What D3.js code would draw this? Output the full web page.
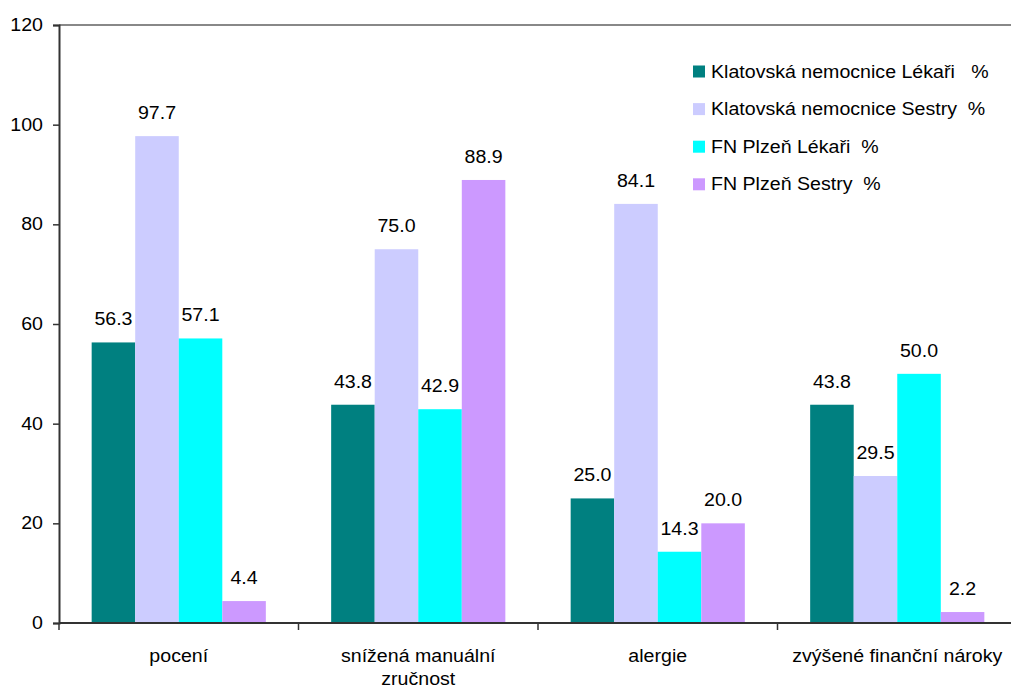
<!DOCTYPE html>
<html>
<head>
<meta charset="utf-8">
<script src="https://cdn.jsdelivr.net/npm/d3@7"></script>
<style>
  html, body { margin: 0; padding: 0; background: #fff; }
  svg { display: block; }
  text { font-family: "Liberation Sans", Arial, sans-serif; fill: #000; }
</style>
</head>
<body>
<svg id="chart" width="1011" height="689"></svg>
<script>
// Categories (x axis)
const categories = ["pocení", "snížená manuální zručnost", "alergie", "zvýšené finanční nároky"];
const categoryLines = [["pocení"], ["snížená manuální", "zručnost"], ["alergie"], ["zvýšené finanční nároky"]];

// Series names and values (%)
const seriesNames = [
  "Klatovská nemocnice Lékaři   %",
  "Klatovská nemocnice Sestry  %",
  "FN Plzeň Lékaři  %",
  "FN Plzeň Sestry  %"
];
const klatovyLekari = [56.3, 43.8, 25.0, 43.8];
const klatovySestry = [97.7, 75.0, 84.1, 29.5];
const plzenLekari   = [57.1, 42.9, 14.3, 50.0];
const plzenSestry   = [4.4, 88.9, 20.0, 2.2];
const seriesValues = [klatovyLekari, klatovySestry, plzenLekari, plzenSestry];
const seriesColors = ["#008080", "#CCCCFF", "#00FFFF", "#CC99FF"];

// Y axis ticks
const yTicks = [0, 20, 40, 60, 80, 100, 120];

const svg = d3.select("#chart");
const plotLeft = 59, plotRight = 1017, plotTop = 25, plotBottom = 623;
const FS = 17.5, SX = 1.12;   // font size and horizontal stretch of text

// Stretched text helper: anchor at (x, y) with the given alignment
function stext(g, str, x, y, anchor) {
  return g.append("text")
    .attr("transform", `translate(${x},${y}) scale(${SX},1)`)
    .attr("text-anchor", anchor)
    .attr("xml:space", "preserve")
    .style("white-space", "pre")
    .style("font-size", FS + "px")
    .text(str);
}

const y = d3.scaleLinear().domain([0, 120]).range([plotBottom, plotTop]);
const x0 = d3.scaleBand().domain(categories).range([plotLeft, plotRight]).padding(0);
const bw = x0.bandwidth() / 5.5;
const x1 = d3.scaleBand().domain(d3.range(seriesNames.length))
  .range([0.75 * bw, 4.75 * bw]).padding(0);

// Top border of the plot area
svg.append("line")
  .attr("x1", plotLeft).attr("x2", 1011)
  .attr("y1", y(120)).attr("y2", y(120))
  .attr("stroke", "#888").attr("stroke-width", 2);

// Bars
const bars = svg.append("g");
seriesValues.forEach((vals, si) => {
  bars.selectAll(null).data(vals).enter().append("rect")
    .attr("x", (d, i) => x0(categories[i]) + x1(si))
    .attr("width", x1.bandwidth())
    .attr("y", d => y(d))
    .attr("height", d => y(0) - y(d))
    .attr("fill", seriesColors[si]);
});

// Value labels above bars
const labels = svg.append("g");
seriesValues.forEach((vals, si) => {
  vals.forEach((v, i) => {
    stext(labels, v.toFixed(1), x0(categories[i]) + x1(si) + x1.bandwidth() / 2, y(v) - 17, "middle");
  });
});

// Y axis
const yAxis = svg.append("g").attr("transform", `translate(${plotLeft},0)`)
  .call(d3.axisLeft(y).tickValues(yTicks).tickSize(6).tickFormat(d3.format("d")));
yAxis.select(".domain").attr("stroke", "#333").attr("stroke-width", 2);
yAxis.selectAll(".tick line").attr("stroke", "#333").attr("stroke-width", 1.5);
yAxis.selectAll(".tick text").remove();
yTicks.forEach(t => stext(svg, String(t), 43, y(t) + 6, "end"));

// X axis with ticks at category boundaries
const xb = svg.append("g");
xb.append("line").attr("x1", plotLeft).attr("x2", 1011)
  .attr("y1", plotBottom).attr("y2", plotBottom)
  .attr("stroke", "#333").attr("stroke-width", 2);
const boundaries = categories.map(c => x0(c)).concat([plotRight]);
xb.selectAll(null).data(boundaries).enter().append("line")
  .attr("x1", d => d).attr("x2", d => d)
  .attr("y1", plotBottom).attr("y2", plotBottom + 7)
  .attr("stroke", "#333").attr("stroke-width", 1.5);

categories.forEach((c, i) => {
  categoryLines[i].forEach((ln, li) => {
    stext(svg, ln, x0(c) + x0.bandwidth() / 2, 662 + li * 23, "middle");
  });
});

// Legend
const legend = svg.append("g");
seriesNames.forEach((name, i) => {
  const cy = 71.5 + i * 37.6;
  legend.append("rect").attr("x", 693).attr("y", cy - 6)
    .attr("width", 12).attr("height", 12).attr("fill", seriesColors[i]);
  stext(legend, name, 711, cy + 6, "start");
});
</script>
</body>
</html>
